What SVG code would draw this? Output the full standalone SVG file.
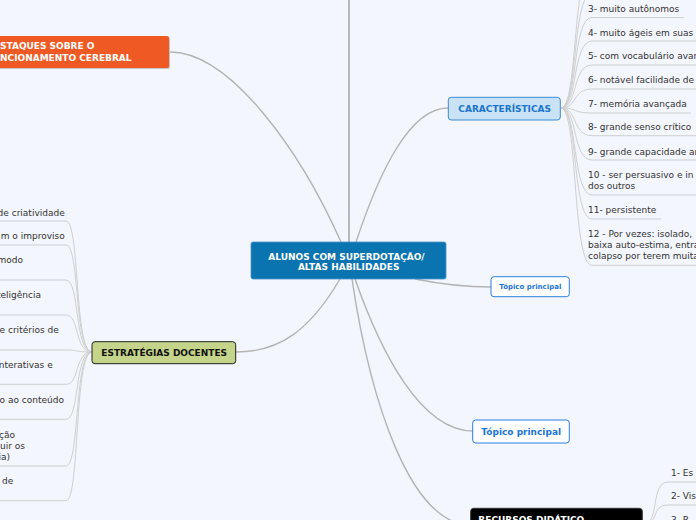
<svg xmlns="http://www.w3.org/2000/svg" width="696" height="520" viewBox="0 0 696 520">
<defs>
<style>
.bg{fill:#f3f6fd}
.main{fill:none;stroke:#b3b3b3;stroke-width:1.4}
.sub{fill:none;stroke:#cfcfcf;stroke-width:1}
.item{font-family:"DejaVu Sans",Verdana,sans-serif;font-size:9px;fill:#333}
.bold{font-family:"DejaVu Sans",Verdana,sans-serif;font-weight:bold;font-size:9px}
</style>
</defs>
<rect class="bg" x="0" y="0" width="696" height="520"/>
<g id="connectors">
<path d="M349 242 L349 0" fill="none" stroke="#b8b8b8" stroke-width="2"/>
<path class="main" d="M170 52 C230 52 300 150 341 242"/>
<path class="main" d="M356 242 C380 170 410 108 448 108"/>
<path class="main" d="M415 279 C440 284 465 287 491 287"/>
<path class="main" d="M355 279 C380 350 420 431 473 431"/>
<path class="main" d="M352 279 C370 400 410 525 471 525"/>
<path class="main" d="M340 279 C310 330 280 352 236 352"/>
<!-- characteristics children -->
<path class="sub" d="M561 108 C578 108 572 -31 592 -31"/>
<path class="sub" d="M561 108 C578 108 572 -6.5 592 -6.5"/>
<path class="sub" d="M561 108 C578 108 572 17.5 592 17.5 L684 17.5"/>
<path class="sub" d="M561 108 C578 108 572 41 592 41 L696 41"/>
<path class="sub" d="M561 108 C578 108 572 65 592 65 L696 65"/>
<path class="sub" d="M561 108 C578 108 572 89 592 89 L696 89"/>
<path class="sub" d="M561 108 C578 108 572 113 592 113 L691 113"/>
<path class="sub" d="M561 108 C578 108 572 135.7 592 135.7 L696 135.7"/>
<path class="sub" d="M561 108 C578 108 572 160 592 160 L696 160"/>
<path class="sub" d="M561 108 C578 108 572 195 592 195 L696 195"/>
<path class="sub" d="M561 108 C578 108 572 219 592 219 L661 219"/>
<path class="sub" d="M561 108 C578 108 572 265.3 592 265.3 L696 265.3"/>
<!-- strategies children -->
<path class="sub" d="M92 352 C74 352 80 221 66 221 L0 221"/>
<path class="sub" d="M92 352 C74 352 80 245 66 245 L0 245"/>
<path class="sub" d="M92 352 C74 352 80 280 66 280 L0 280"/>
<path class="sub" d="M92 352 C74 352 80 315 66 315 L0 315"/>
<path class="sub" d="M92 352 C74 352 80 350 66 350 L0 350"/>
<path class="sub" d="M92 352 C74 352 80 384.3 66 384.3 L0 384.3"/>
<path class="sub" d="M92 352 C74 352 80 419.3 66 419.3 L0 419.3"/>
<path class="sub" d="M92 352 C74 352 80 466 66 466 L0 466"/>
<path class="sub" d="M92 352 C74 352 80 500.7 66 500.7 L0 500.7"/>
<!-- recursos children -->
<path class="sub" d="M643 525 C660 525 650 482 668 482 L696 482"/>
<path class="sub" d="M643 525 C660 525 650 505 668 505 L696 505"/>
<path class="sub" d="M643 525 C660 525 650 528 668 528 L696 528"/>
</g>
<g id="central">
<rect x="251" y="242" width="195" height="37" rx="2" fill="#0a74b1" stroke="#4a93c4" stroke-width="0.8"/>
<text class="bold" x="346.5" y="259.5" fill="#fff" text-anchor="middle">ALUNOS COM SUPERDOTAÇÃO/</text>
<text class="bold" x="348.7" y="270" fill="#fff" text-anchor="middle">ALTAS HABILIDADES</text>
</g>
<g id="destaques">
<rect x="-20" y="37" width="190" height="32" rx="2" fill="#c4c4c4"/>
<rect x="-20" y="36" width="189" height="32" rx="2" fill="#ef5a24"/>
<text class="bold" x="0" y="49" fill="#fff">STAQUES SOBRE O</text>
<text class="bold" x="0" y="60.7" fill="#fff">NCIONAMENTO CEREBRAL</text>
</g>
<g id="estrategias">
<rect x="92" y="341.7" width="143.7" height="22" rx="3" fill="#c5d48b" stroke="#222" stroke-width="1"/>
<text class="bold" x="164.2" y="356" fill="#111" text-anchor="middle">ESTRATÉGIAS DOCENTES</text>
</g>
<g id="caracteristicas">
<rect x="448.3" y="97.3" width="112" height="22.7" rx="3" fill="#c9e2f6" stroke="#3b8bd2" stroke-width="1"/>
<text class="bold" x="504.7" y="112" fill="#1c74cc" text-anchor="middle">CARACTERÍSTICAS</text>
</g>
<g id="topico1">
<rect x="491" y="276.7" width="78.3" height="20" rx="3" fill="#fff" stroke="#2a7fe0" stroke-width="1"/>
<text class="bold" x="530.3" y="289.3" fill="#1c74d8" text-anchor="middle" style="font-size:7px">Tópico principal</text>
</g>
<g id="topico2">
<rect x="472.7" y="420" width="96.6" height="23" rx="3" fill="#fff" stroke="#2a7fe0" stroke-width="1"/>
<text class="bold" x="521.2" y="435.3" fill="#1c74d8" text-anchor="middle">Tópico principal</text>
</g>
<g id="recursos">
<rect x="470.7" y="508.3" width="171.6" height="30" rx="3" fill="#000" stroke="#333" stroke-width="1"/>
<text class="bold" x="478.3" y="523.3" fill="#fff">RECURSOS DIDÁTICO</text>
</g>
<g id="caracteristicas-itens">
<text class="item" x="588" y="12.3">3- muito autônomos</text>
<text class="item" x="588" y="35.7">4- muito ágeis em suas</text>
<text class="item" x="588" y="59.3">5- com vocabulário avan</text>
<text class="item" x="588" y="83.3">6- notável facilidade de</text>
<text class="item" x="588" y="107.3">7- memória avançada</text>
<text class="item" x="588" y="130">8- grande senso crítico</text>
<text class="item" x="588" y="155">9- grande capacidade an</text>
<text class="item" x="588" y="178.3">10 - ser persuasivo e in</text>
<text class="item" x="588" y="189">dos outros</text>
<text class="item" x="588" y="213.3">11- persistente</text>
<text class="item" x="588" y="237.3">12 - Por vezes: isolado,</text>
<text class="item" x="588" y="248.3">baixa auto-estima, entra</text>
<text class="item" x="588" y="259">colapso por terem muita</text>
</g>
<g id="estrategias-itens">
<text class="item" x="64.7" y="215.7" text-anchor="end">de criatividade</text>
<text class="item" x="64.7" y="239.3" text-anchor="end">m o improviso</text>
<text class="item" x="23" y="263.3" text-anchor="end">modo</text>
<text class="item" x="41" y="298.3" text-anchor="end">teligência</text>
<text class="item" x="58.7" y="333.3" text-anchor="end">e critérios de</text>
<text class="item" x="52.7" y="367.7" text-anchor="end">nterativas e</text>
<text class="item" x="64" y="402.7" text-anchor="end">o ao conteúdo</text>
<text class="item" x="15" y="438.3" text-anchor="end">ção</text>
<text class="item" x="25" y="449" text-anchor="end">uir os</text>
<text class="item" x="10" y="460" text-anchor="end">ia)</text>
<text class="item" x="13.3" y="484" text-anchor="end">de</text>
</g>
<g id="recursos-itens">
<text class="item" x="671" y="476">1- Es</text>
<text class="item" x="671" y="499.3">2- Vis</text>
<text class="item" x="671" y="522.5">3- R</text>
</g>
</svg>
